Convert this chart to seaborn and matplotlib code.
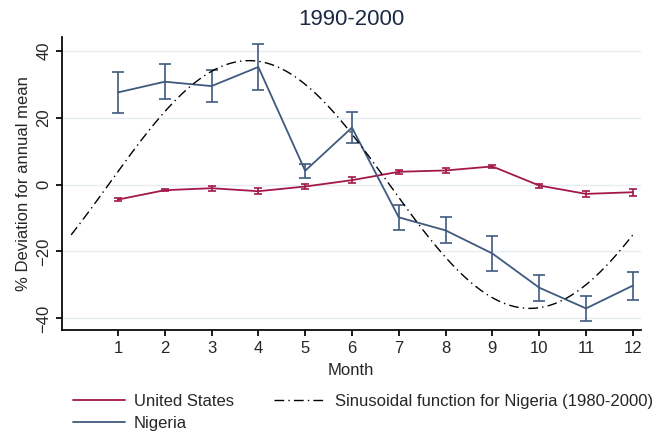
import matplotlib
matplotlib.use("Agg")
import matplotlib.pyplot as plt
import numpy as np
import pandas as pd
import seaborn as sns

# Data
months = [1, 2, 3, 4, 5, 6, 7, 8, 9, 10, 11, 12]
us_dev = [-4.5, -1.7, -1.1, -2.0, -0.6, 1.3, 3.8, 4.2, 5.4, -0.3, -2.8, -2.3]
us_err = [0.5, 0.3, 0.7, 0.9, 0.7, 0.8, 0.6, 0.8, 0.5, 0.6, 0.8, 1.1]
ng_dev = [27.5, 30.7, 29.4, 35.1, 4.1, 17.0, -9.8, -13.7, -20.6, -30.8, -37.0, -30.2]
ng_err = [6.0, 5.2, 4.7, 7.0, 2.1, 4.7, 3.8, 3.9, 5.3, 3.9, 3.8, 4.2]

# Sinusoid parameters
sin_amplitude = 37.0
sin_peak_month = 3.8

US_COLOR = "#a3184a"
NG_COLOR = "#3e5a7e"

sns.set_theme(style="white")
plt.rcParams["font.family"] = ["Liberation Sans", "DejaVu Sans"]

df = pd.DataFrame({
    "month": months * 2,
    "dev": us_dev + ng_dev,
    "country": ["United States"] * 12 + ["Nigeria"] * 12,
})

fig, ax = plt.subplots(figsize=(6.64, 4.48), dpi=100)
fig.subplots_adjust(left=0.093, right=0.965, top=0.917, bottom=0.263)

for y in [-40, -20, 0, 20, 40]:
    ax.axhline(y, color="#e6edf1", linewidth=1.0, zorder=0)

sns.lineplot(data=df, x="month", y="dev", hue="country",
             palette={"United States": US_COLOR, "Nigeria": NG_COLOR},
             linewidth=1.3, ax=ax, legend=False)
ax.errorbar(months, us_dev, yerr=us_err, fmt="none", ecolor=US_COLOR,
            elinewidth=1.2, capsize=3, capthick=1.2)
ax.errorbar(months, ng_dev, yerr=ng_err, fmt="none", ecolor=NG_COLOR,
            elinewidth=1.2, capsize=4, capthick=1.2)

t = np.linspace(0, 12, 300)
sinus = sin_amplitude * np.sin(np.pi * (t - sin_peak_month + 3) / 6)
ax.plot(t, sinus, color="black", linewidth=1.0, dashes=(7, 3, 1, 3))

ax.set_xlim(-0.2, 12.17)
ax.set_ylim(-43.5, 44)
ax.set_xticks(months)
ax.set_yticks([-40, -20, 0, 20, 40])
ax.tick_params(axis="both", labelsize=12, length=4, color="black", direction="out",
               left=True, bottom=True)
for lbl in ax.get_yticklabels():
    lbl.set_rotation(90)
    lbl.set_va("center")
ax.set_xlabel("Month", fontsize=12, labelpad=5)
ax.set_ylabel("% Deviation for annual mean", fontsize=12, labelpad=4)
ax.set_title("1990-2000", fontsize=16, color="#1c2a44", pad=9)

sns.despine(ax=ax)
ax.spines["left"].set_color("black")
ax.spines["bottom"].set_color("black")

handles = [
    plt.Line2D([], [], color=US_COLOR, linewidth=1.3),
    plt.Line2D([], [], color=NG_COLOR, linewidth=1.3),
    plt.Line2D([], [], color="black", linewidth=1.0, dashes=(7, 3, 1, 3)),
]
labels = ["United States", "Nigeria", "Sinusoidal function for Nigeria (1980-2000)"]
fig.legend(handles, labels,
           ncol=2, loc="upper left", bbox_to_anchor=(0.11, 0.12), frameon=False,
           borderpad=0, borderaxespad=0,
           fontsize=12, handlelength=3.1, columnspacing=2.4, labelspacing=0.4,
           handletextpad=0.55)

fig.savefig("out.png", dpi=100, facecolor="white")
